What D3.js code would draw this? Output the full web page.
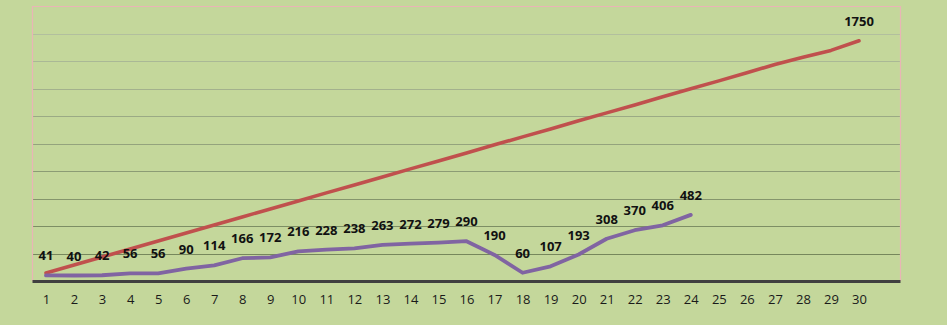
<!DOCTYPE html>
<html><head><meta charset="utf-8">
<script src="https://cdn.jsdelivr.net/npm/d3@7"></script>
<style>html,body{margin:0;padding:0;background:#c4d79b;}svg{display:block;}</style>
</head><body><svg id="c" width="947" height="325"></svg>
<script>
const days = d3.range(1, 31).map(String);
const targetValues = [58,117,175,233,292,350,408,467,525,583,642,700,758,817,875,933,992,1050,1108,1167,1225,1283,1342,1400,1458,1517,1578,1630,1680,1750];
const actualValues = [41,40,42,56,56,90,114,166,172,216,228,238,263,272,279,290,190,60,107,193,308,370,406,482];
const yTicks = [200,400,600,800,1000,1200,1400,1600,1800,2000];

const svg = d3.select('#c');
const W = 947, H = 325;
const plot = {l: 32.5, t: 6.5, r: 900.5, b: 281};
svg.append('rect').attr('width', W).attr('height', H).attr('fill', '#c4d79b');

const x = d3.scalePoint().domain(days).range([46, 859]);
const y = d3.scaleLinear().domain([0, 2000]).range([plot.b, plot.t]);

const gridColor = d3.scaleLinear().domain([2000, 200]).range(['#b9c6a6', '#76875c']);
svg.append('g').selectAll('line').data(yTicks.slice(0, -1)).join('line')
  .attr('x1', plot.l).attr('x2', plot.r)
  .attr('y1', d => Math.round(y(d)) + 0.5).attr('y2', d => Math.round(y(d)) + 0.5)
  .attr('stroke', d => gridColor(d)).attr('stroke-width', 1);

// plot border
svg.append('path')
  .attr('d', `M${plot.l},${plot.b}V${plot.t}H${plot.r}V${plot.b}`)
  .attr('fill', 'none').attr('stroke', '#e9b5b5').attr('stroke-width', 1.2);

// x axis
const xAxis = d3.axisBottom(x).tickSize(0).tickPadding(13);
const gx = svg.append('g').attr('transform', `translate(0,${plot.b + 0.5})`).call(xAxis);
gx.select('.domain').remove();
gx.selectAll('text').attr('font-family', 'Open Sans, sans-serif').attr('font-size', 13).attr('fill', '#1a1a1a');
svg.append('line').attr('x1', plot.l).attr('x2', plot.r).attr('y1', plot.b + 0.5).attr('y2', plot.b + 0.5)
  .attr('stroke', '#404040').attr('stroke-width', 2.8);

const line = d3.line().x((d, i) => x(days[i])).y(d => y(d));
svg.append('path').datum(targetValues).attr('d', line)
  .attr('fill', 'none').attr('stroke', '#c0504d').attr('stroke-width', 3.6).attr('stroke-linecap', 'round').attr('stroke-linejoin', 'round');
svg.append('path').datum(actualValues).attr('d', line)
  .attr('fill', 'none').attr('stroke', '#8064a2').attr('stroke-width', 3.8).attr('stroke-linecap', 'round').attr('stroke-linejoin', 'round');

const lbl = (sel) => sel.attr('font-family', 'Open Sans, sans-serif').attr('font-size', 13).attr('font-weight', 'bold')
  .attr('fill', '#111').attr('text-anchor', 'middle').attr('dominant-baseline', 'central');
svg.append('g').selectAll('text').data(actualValues).join('text')
  .attr('x', (d, i) => x(days[i])).attr('y', d => y(d) - 20).text(d => d).call(lbl);
svg.append('text').attr('x', x(days[29])).attr('y', y(targetValues[29]) - 20).text(targetValues[29]).call(lbl);
</script></body></html>
